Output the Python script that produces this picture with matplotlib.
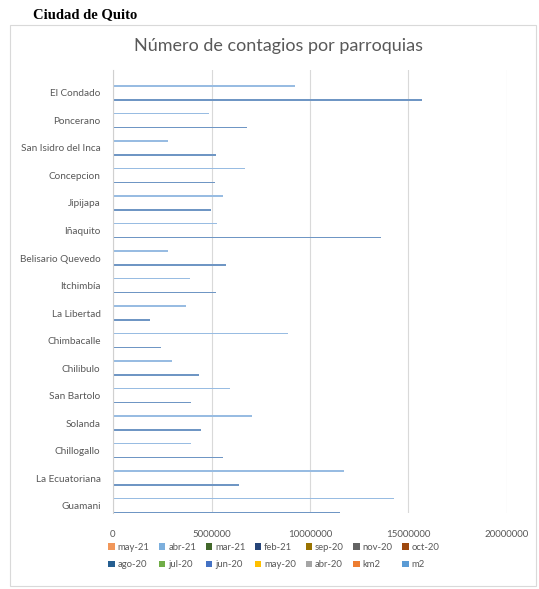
import matplotlib
matplotlib.use('Agg')
import matplotlib.pyplot as plt
from matplotlib.patches import Rectangle, Patch
import numpy as np

# Parroquias, bottom to top (as drawn on the category axis)
parroquias = ['Guamani', 'La Ecuatoriana', 'Chillogallo', 'Solanda', 'San Bartolo',
              'Chilibulo', 'Chimbacalle', 'La Libertad', 'Itchimbía', 'Belisario Quevedo',
              'Iñaquito', 'Jipijapa', 'Concepcion', 'San Isidro del Inca', 'Poncerano',
              'El Condado']

# the two series that are visible at this scale
m2_vals = [11520000, 6410000, 5570000, 4470000, 3940000, 4380000, 2440000, 1880000,
           5230000, 5740000, 13590000, 4970000, 5200000, 5230000, 6790000, 15670000]
abr21_vals = [14260000, 11730000, 3940000, 7070000, 5940000, 2980000, 8900000, 3710000,
              3910000, 2810000, 5280000, 5570000, 6700000, 2790000, 4870000, 9240000]

# legend series (Excel default order / colours)
series_names = ['may-21', 'abr-21', 'mar-21', 'feb-21', 'sep-20', 'nov-20', 'oct-20',
                'ago-20', 'jul-20', 'jun-20', 'may-20', 'abr-20', 'km2', 'm2']
series_colors = ['#F1975A', '#7CAFDD', '#43682B', '#264478', '#997300', '#636363', '#9E480E',
                 '#255E91', '#70AD47', '#4472C4', '#FFC000', '#A5A5A5', '#ED7D31', '#5B9BD5']

xticks = [0, 5000000, 10000000, 15000000, 20000000]

plt.rcParams['font.family'] = ['Lato', 'DejaVu Sans']

fig = plt.figure(figsize=(5.39, 5.89), dpi=100)

# outer chart frame
fig.patches.append(Rectangle((10 / 539, 1 - 586 / 589), 526 / 539, 561 / 589,
                             transform=fig.transFigure, fill=False,
                             edgecolor='#D9D9D9', linewidth=0.8))

fig.text(33 / 539, 1 - 15 / 589, 'Ciudad de Quito', family='Liberation Serif',
         fontweight='bold', fontsize=10.5, va='center', ha='left', color='black')

ax = fig.add_axes([113 / 539, 1 - 513 / 589, 394 / 539, 443 / 589])

y = np.arange(len(parroquias))
off = 0.254
h = 0.065
ax.barh(y - off, m2_vals, height=h, color='#6F96C4', linewidth=0, clip_on=False)
ax.barh(y + off, abr21_vals, height=h, color='#98BCE2', linewidth=0, clip_on=False)

ax.set_xlim(0, 20000000)
ax.set_ylim(-0.27, 15.835)
ax.set_xticks(xticks)
ax.set_xticklabels([str(v) for v in xticks], fontsize=7, color='#595959')
ax.set_yticks(y)
ax.set_yticklabels(parroquias, fontsize=7.2, color='#595959')
ax.tick_params(length=0, pad=12)
ax.tick_params(axis='y', pad=9)

ax.grid(axis='x', color='#D9D9D9', linewidth=0.8)
ax.set_axisbelow(True)
for s in ['top', 'right', 'bottom']:
    ax.spines[s].set_visible(False)
ax.spines['left'].set_color('#D0D0D0')
ax.spines['left'].set_linewidth(0.8)

fig.text(279 / 539, 1 - 46 / 589, 'Número de contagios por parroquias', fontsize=13,
         color='#595959', ha='center', va='center')

# legend: two rows of seven, matplotlib fills by column so interleave
handles = [Patch(facecolor=c, edgecolor='none') for c in series_colors]
order = []
for i in range(7):
    order += [i, i + 7]
leg = fig.legend([handles[i] for i in order], [series_names[i] for i in order],
                 ncol=7, loc='center left', bbox_to_anchor=(108 / 539, 1 - 556 / 589),
                 frameon=False, fontsize=6.8, handlelength=0.7, handleheight=0.7,
                 handletextpad=0.3, columnspacing=1.0, labelspacing=0.9,
                 borderaxespad=0, borderpad=0)
for t in leg.get_texts():
    t.set_color('#595959')

fig.savefig('out.png', dpi=100)
